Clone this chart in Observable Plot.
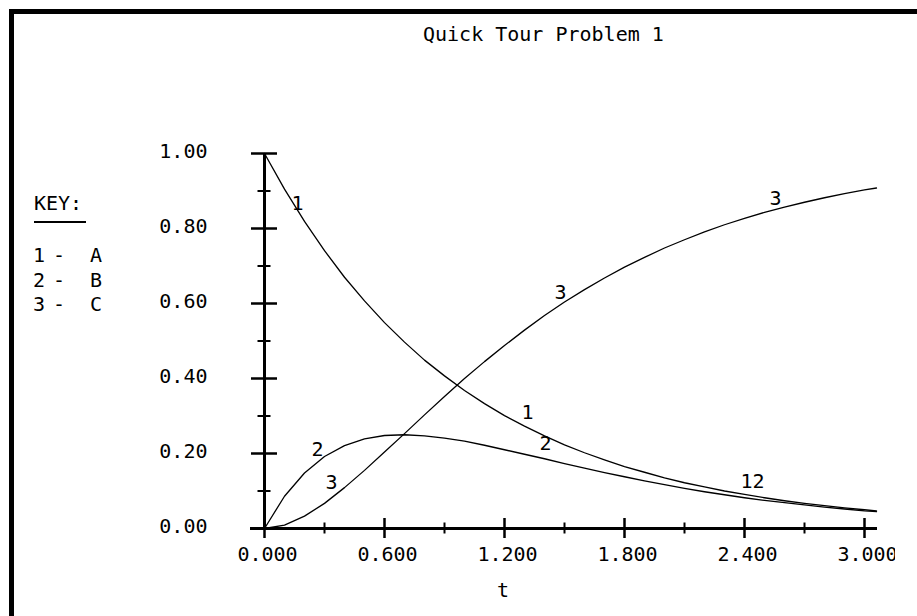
<!DOCTYPE html>
<html>
<head>
<meta charset="utf-8">
<script src="https://cdn.jsdelivr.net/npm/d3@7"></script>
<script src="https://cdn.jsdelivr.net/npm/@observablehq/plot@0.6"></script>
<style>
html, body { margin: 0; padding: 0; background: #fff; }
#wrap { position: relative; width: 917px; height: 616px; overflow: hidden; background: #fff;
  font-family: "DejaVu Sans Mono", monospace; font-size: 20px; line-height: 20px; color: #000; }
.bt { position: absolute; left: 9px; top: 9px; width: 908px; height: 5px; background: #000; }
.bl { position: absolute; left: 9px; top: 9px; width: 5px; height: 607px; background: #000; }
#title { position: absolute; left: 423px; top: 24px; white-space: pre; }
#key { position: absolute; left: 0; top: 0; }
.k { position: absolute; white-space: pre; }
.uline { position: absolute; left: 34px; top: 221px; width: 52px; height: 2px; background: #000; }
#xlabel { position: absolute; left: 497px; top: 580px; }
#chart { position: absolute; left: 0; top: 0; }
</style>
</head>
<body>
<div id="wrap">
  <div id="chart"></div>
  <div class="bt"></div>
  <div class="bl"></div>
  <div id="title"></div>
  <div id="key"></div>
  <div id="xlabel"></div>
</div>
<script>
// ---- data ----
const titleText = "Quick Tour Problem 1";
const xAxisLabel = "t";
const keyTitle = "KEY:";
const keyNumbers = ["1", "2", "3"];
const keyNames = ["A", "B", "C"];

const time = [0.0, 0.1, 0.2, 0.3, 0.4, 0.5, 0.6, 0.7, 0.8, 0.9, 1.0,
              1.1, 1.2, 1.3, 1.4, 1.5, 1.6, 1.7, 1.8, 1.9, 2.0,
              2.1, 2.2, 2.3, 2.4, 2.5, 2.6, 2.7, 2.8, 2.9, 3.0, 3.06];
const seriesA = [1.000, 0.905, 0.819, 0.741, 0.670, 0.607, 0.549, 0.497, 0.449, 0.407, 0.368,
                 0.333, 0.301, 0.273, 0.247, 0.223, 0.202, 0.183, 0.165, 0.150, 0.135,
                 0.122, 0.111, 0.100, 0.091, 0.082, 0.074, 0.067, 0.061, 0.055, 0.050, 0.047];
const seriesB = [0.000, 0.086, 0.148, 0.192, 0.221, 0.239, 0.248, 0.250, 0.247, 0.241, 0.233,
                 0.222, 0.210, 0.198, 0.186, 0.173, 0.161, 0.149, 0.138, 0.127, 0.117,
                 0.107, 0.098, 0.090, 0.082, 0.075, 0.069, 0.063, 0.057, 0.052, 0.047, 0.045];
const seriesC = [0.000, 0.009, 0.033, 0.067, 0.109, 0.155, 0.204, 0.253, 0.303, 0.352, 0.400,
                 0.445, 0.488, 0.529, 0.568, 0.604, 0.637, 0.668, 0.697, 0.723, 0.748,
                 0.770, 0.791, 0.810, 0.827, 0.843, 0.857, 0.870, 0.882, 0.893, 0.903, 0.908];

const xTicks = [0, 0.6, 1.2, 1.8, 2.4, 3.0];
const xTickLabels = ["0.000", "0.600", "1.200", "1.800", "2.400", "3.000"];
const xMinorTicks = [0.3, 0.9, 1.5, 2.1, 2.7];
const yTicks = [0, 0.2, 0.4, 0.6, 0.8, 1.0];
const yTickLabels = ["0.00", "0.20", "0.40", "0.60", "0.80", "1.00"];
const yMinorTicks = [0.1, 0.3, 0.5, 0.7, 0.9];

// curve number labels (text, t, value)
const labelText = ["1", "1", "2", "2", "3", "3", "3", "12"];
const labelT    = [0.165, 1.315, 0.265, 1.405, 0.335, 1.48, 2.555, 2.44];
const labelV    = [0.867, 0.309, 0.211, 0.227, 0.123, 0.629, 0.880, 0.125];

// ---- build ----
const seriesNames = ["A", "B", "C"];
const seriesVals = [seriesA, seriesB, seriesC];
const rows = [];
seriesVals.forEach((vals, s) => vals.forEach((v, i) => rows.push({series: seriesNames[s], t: time[i], v})));

const X_MAJOR = 10 / 375, X_MINOR = 5.5 / 375;   // tick half-lengths in y units
const Y_MAJOR = 13 / 200, Y_MINOR = 6.5 / 200;   // tick half-lengths in x units

const chart = Plot.plot({
  width: 895,
  height: 616,
  marginLeft: 264,
  marginRight: 31,
  marginTop: 153,
  marginBottom: 88,
  style: {fontFamily: "DejaVu Sans Mono, monospace", fontSize: "20px", overflow: "hidden", background: "transparent", color: "#000"},
  x: {domain: [0, 3], axis: null},
  y: {domain: [0, 1], axis: null},
  marks: [
    // axes lines
    Plot.ruleX([0], {y1: 0, y2: 1, stroke: "#000", strokeWidth: 3}),
    Plot.ruleY([0], {x1: -0.07, x2: 3.065, stroke: "#000", strokeWidth: 3}),
    // x ticks
    Plot.ruleX(xTicks, {x: d => d, y1: -X_MAJOR, y2: X_MAJOR, stroke: "#000", strokeWidth: 2.5}),
    Plot.ruleX(xMinorTicks, {x: d => d, y1: -X_MINOR, y2: X_MINOR, stroke: "#000", strokeWidth: 2}),
    // y ticks
    Plot.ruleY(yTicks, {y: d => d, x1: -Y_MAJOR, x2: Y_MAJOR, stroke: "#000", strokeWidth: 2.5}),
    Plot.ruleY(yMinorTicks, {y: d => d, x1: -Y_MINOR, x2: Y_MINOR, stroke: "#000", strokeWidth: 2}),
    // tick labels
    Plot.text(xTicks, {x: d => d, y: 0, text: (d, i) => xTickLabels[i], dy: 26, dx: 3, fontSize: 20, fill: "#000"}),
    Plot.text(yTicks, {x: 0, y: d => d, text: (d, i) => yTickLabels[i], textAnchor: "end", dx: -57, dy: -2, fontSize: 20, fill: "#000"}),
    // curves
    Plot.line(rows, {x: "t", y: "v", z: "series", stroke: "#000", strokeWidth: 1.3}),
    // curve labels
    Plot.text(labelText, {x: (d, i) => labelT[i], y: (d, i) => labelV[i], text: d => d, fontSize: 20, fill: "#000"})
  ]
});
document.getElementById("chart").appendChild(chart);

document.getElementById("title").textContent = titleText;
document.getElementById("xlabel").textContent = xAxisLabel;

const key = document.getElementById("key");
function addK(text, left, top) {
  const el = document.createElement("div");
  el.className = "k";
  el.style.left = left + "px";
  el.style.top = top + "px";
  el.textContent = text;
  key.appendChild(el);
}
addK(keyTitle, 34, 193);
const ul = document.createElement("div"); ul.className = "uline"; key.appendChild(ul);
keyNumbers.forEach((n, i) => {
  const top = 245 + i * 24.5;
  addK(n, 33, top);
  addK("-", 53, top);
  addK(keyNames[i], 90, top);
});
</script>
</body>
</html>
